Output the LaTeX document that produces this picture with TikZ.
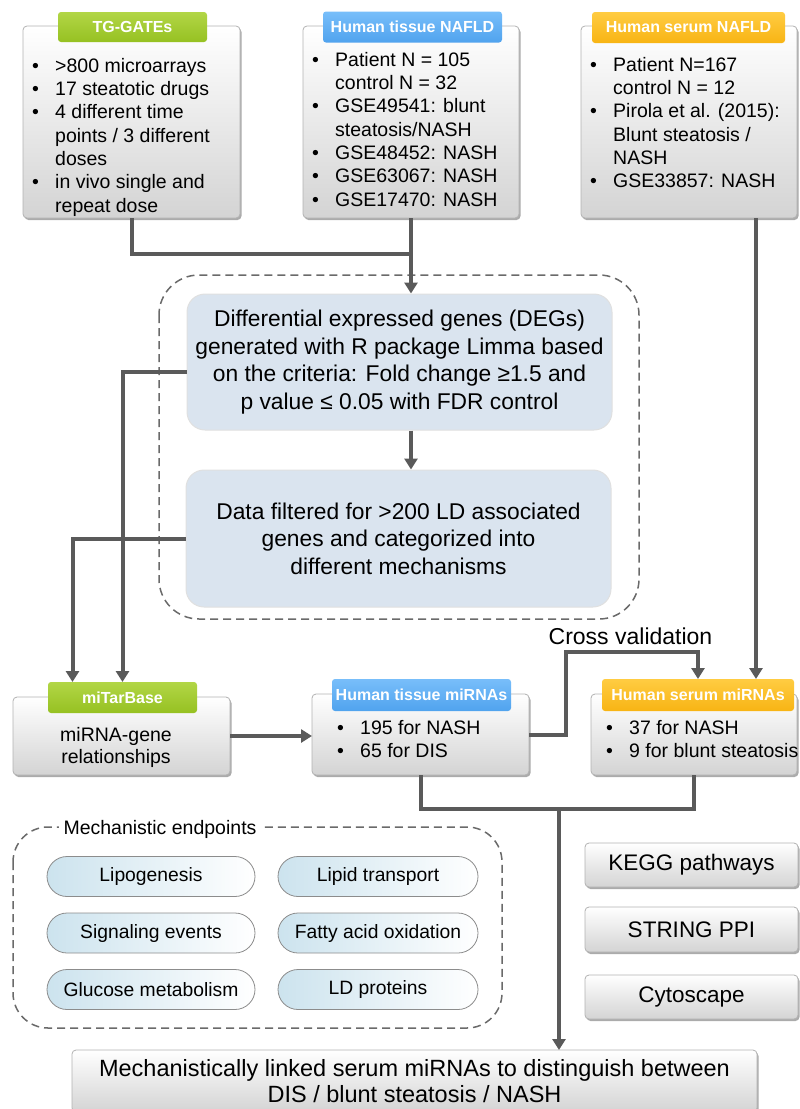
\documentclass[tikz,border=0pt]{standalone}
\usepackage{fontspec}
\setmainfont{Liberation Sans}
\usetikzlibrary{arrows.meta,positioning,shadows,shapes.misc}
\definecolor{linegray}{HTML}{5A5A5A}
\definecolor{dashgray}{HTML}{6A6A6A}
\definecolor{deggray}{HTML}{DAE4EF}
\definecolor{pillblue}{HTML}{CCE3EE}
\newcommand{\itm}{\makebox[23pt][l]{\textbullet}}
\newcommand{\cnt}{\hspace*{23pt}}

\begin{document}
\begin{tikzpicture}[
  x=1pt, y=-1pt,
  panel/.style={rounded corners=4pt, draw=black!30, line width=0.8pt,
                top color=white, bottom color=black!17,
                drop shadow={shadow xshift=1.5pt, shadow yshift=-2pt, fill=black!55, opacity=0.6},
                inner sep=0pt, outer sep=0pt},
  tab/.style={rounded corners=3pt, draw=none, inner sep=0pt, outer sep=0pt,
              text=white, font=\fontsize{16}{18}\selectfont\bfseries},
  tabgreen/.style={tab, top color={rgb,255:red,178;green,214;blue,70}, bottom color={rgb,255:red,150;green,193;blue,34}},
  tabblue/.style={tab, top color={rgb,255:red,120;green,190;blue,250}, bottom color={rgb,255:red,80;green,163;blue,238}},
  taborange/.style={tab, top color={rgb,255:red,255;green,204;blue,66}, bottom color={rgb,255:red,248;green,180;blue,20}},
  bullets/.style={anchor=north west, align=left, inner sep=0pt, font=\fontsize{19.5}{23.3}\selectfont},
  stepbox/.style={rounded corners=18pt, draw=black!12, fill=deggray, line width=1pt,
                  minimum width=425pt, align=center, inner sep=0pt,
                  font=\fontsize{22.8}{27.5}\selectfont},
  pill/.style={rounded rectangle, draw=black!45, line width=0.8pt,
               left color=pillblue, right color=white, minimum height=40pt,
               inner sep=0pt, font=\fontsize{19.3}{21}\selectfont},
  tool/.style={panel, minimum width=213pt, font=\fontsize{22.5}{24}\selectfont},
  dashbox/.style={draw=dashgray, line width=1.5pt, dash pattern=on 8pt off 5pt},
  link/.style={line width=4pt, draw=linegray},
  arrow/.style={link, -{Triangle[width=13pt,length=11pt]}}
]
  \useasboundingbox (0,0) rectangle (800,1109);

  \node[panel, minimum width=217pt, minimum height=192pt] (tggates) at (131.5,122) {};
  \node[panel, minimum width=216pt, minimum height=192pt] (tissue) at (411,122) {};
  \node[panel, minimum width=216pt, minimum height=192pt] (serum) at (689,122) {};
  \node[tabgreen, minimum width=149pt, minimum height=30pt] (tghead) at (132.5,27) {TG-GATEs};
  \node[tabblue, minimum width=179pt, minimum height=31pt] (tissuehead) at (412.5,27) {Human tissue NAFLD};
  \node[taborange, minimum width=193pt, minimum height=31pt] (serumhead) at (688.5,27.5) {Human serum NAFLD};

  \node[bullets] (tgtext) at (32,58) {\itm >800 microarrays\\ \itm 17 steatotic drugs\\ \itm 4 different time\\ \cnt points / 3 different\\ \cnt doses\\ \itm in vivo single and\\ \cnt repeat dose};
  \node[bullets] (tissuetext) at (312,52) {\itm Patient N = 105\\ \cnt control N = 32\\ \itm GSE49541: blunt\\ \cnt steatosis/NASH\\ \itm GSE48452: NASH\\ \itm GSE63067: NASH\\ \itm GSE17470: NASH};
  \node[bullets] (serumtext) at (590,57) {\itm Patient N=167\\ \cnt control N = 12\\ \itm Pirola et al. (2015):\\ \cnt Blunt steatosis /\\ \cnt NASH\\ \itm GSE33857: NASH};

  \draw[dashbox, rounded corners=40pt] (159,275) rectangle (639,619);
  \node[stepbox, minimum height=136pt] (deg) at (399.5,362) {Differential expressed genes (DEGs)\\generated with R package Limma based\\on the criteria: Fold change ≥1.5 and\\p value ≤ 0.05 with FDR control};
  \node[stepbox, minimum height=137pt] (data) at (398.5,538.5) {Data filtered for >200 LD associated\\genes and categorized into\\different mechanisms};

  \node[panel, minimum width=217pt, minimum height=78pt] (mitar) at (121.5,736) {};
  \node[panel, minimum width=217pt, minimum height=81pt] (tmirna) at (420.5,734.5) {};
  \node[panel, minimum width=206pt, minimum height=81pt] (smirna) at (694,734.5) {};
  \node[tabgreen, minimum width=149pt, minimum height=31pt] (mitarhead) at (122.5,697.5) {miTarBase};
  \node[tabblue, minimum width=179pt, minimum height=32pt] (tmirnahead) at (421.5,695) {Human tissue miRNAs};
  \node[taborange, minimum width=192pt, minimum height=32pt] (smirnahead) at (698,695) {Human serum miRNAs};
  \node[align=center, inner sep=0pt, font=\fontsize{19.5}{22}\selectfont] (mitartext) at (116,747) {miRNA-gene\\relationships};
  \node[bullets] (tmirnatext) at (337,720) {\itm 195 for NASH\\ \itm 65 for DIS};
  \node[bullets] (smirnatext) at (606,720) {\itm 37 for NASH\\ \itm 9 for blunt steatosis};
  \node[inner sep=0pt, font=\fontsize{23}{26}\selectfont] (crossval) at (630.5,636) {Cross validation};

  \draw[dashbox, rounded corners=35pt] (13,827) rectangle (502,1028);
  \node[fill=white, inner sep=5pt, font=\fontsize{19.5}{22}\selectfont] (mechtitle) at (160,829) {Mechanistic endpoints};
  \node[pill, minimum width=208pt] (lipo) at (151,876.5) {Lipogenesis};
  \node[pill, minimum width=200pt] (transport) at (378,876.5) {Lipid transport};
  \node[pill, minimum width=208pt] (signal) at (151,933) {Signaling events};
  \node[pill, minimum width=200pt] (fatty) at (378,933) {Fatty acid oxidation};
  \node[pill, minimum width=208pt] (glucose) at (151,989.5) {Glucose metabolism};
  \node[pill, minimum width=200pt] (ldprot) at (378,989.5) {LD proteins};

  \node[tool, minimum height=44pt] (kegg) at (691.5,865) {KEGG pathways};
  \node[tool, minimum height=45pt] (string) at (691.5,929.5) {STRING PPI};
  \node[tool, minimum height=44pt] (cyto) at (691.5,997) {Cytoscape};

  \node[panel, minimum width=685pt, minimum height=62pt, align=center,
        font=\fontsize{23.5}{26}\selectfont] (final) at (414.5,1081)
        {Mechanistically linked serum miRNAs to distinguish between\\DIS / blunt steatosis / NASH};

  \coordinate (j1) at (411,254);
  \coordinate (cv) at (566,652);
  \coordinate (j2) at (559,809);

  \draw[link] (tggates.south) |- (j1);
  \draw[arrow] (tissue.south) -- (tissue.south |- deg.north);
  \draw[arrow] (tissue.south |- deg.south) -- (tissue.south |- data.north);
  \draw[arrow] ([yshift=-10pt]deg.west) -| (mitarhead.north);
  \draw[arrow] (data.west) -| ([xshift=-50pt]mitarhead.north);
  \draw[arrow] (mitar.east) -- (mitar.east -| tmirna.west);
  \draw[arrow] (tmirna.east) -| (cv) -| (smirnahead.north);
  \draw[arrow] ([xshift=67pt]serum.south) -- ([xshift=67pt]serum.south |- smirnahead.north);
  \draw[link] (tmirna.south) |- (smirna.south |- j2) -- (smirna.south);
  \draw[arrow] (j2) -- (j2 |- final.north);
\end{tikzpicture}
\end{document}
